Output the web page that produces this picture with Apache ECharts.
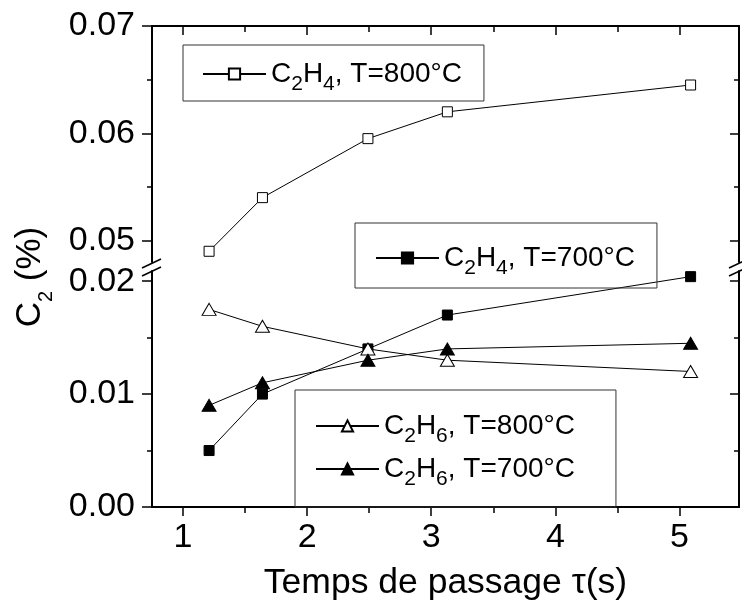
<!DOCTYPE html>
<html><head><meta charset="utf-8">
<script src="https://cdn.jsdelivr.net/npm/echarts@6/dist/echarts.min.js"></script>
<style>html,body{margin:0;padding:0;background:#fff}#c{width:742px;height:606px}</style>
</head><body><div id="c"></div>
<script>
// ---- data ----
const TAU = [1.21, 1.64, 2.49, 3.13, 5.09];
const C2H4_800 = [0.049, 0.054, 0.0595, 0.062, 0.0645];
const C2H4_700 = [0.005, 0.010, 0.014, 0.017, 0.0204];
const C2H6_800 = [0.0175, 0.016, 0.014, 0.013, 0.012];
const C2H6_700 = [0.009, 0.011, 0.013, 0.014, 0.0145];
const NAMES = ['C2H4, T=800°C', 'C2H4, T=700°C', 'C2H6, T=800°C', 'C2H6, T=700°C'];
const X_MAJOR = [1, 2, 3, 4, 5];
const X_MINOR = [1.5, 2.5, 3.5, 4.5];
const Y_UP_MAJOR = [0.05, 0.06, 0.07];
const Y_UP_MINOR = [0.055, 0.065];
const Y_LO_MAJOR = [0, 0.01, 0.02];
const Y_LO_MINOR = [0.005, 0.015];
const X_RANGE = [0.75, 5.48];
const Y_UP_RANGE = [0.048, 0.07];
const Y_LO_RANGE = [0, 0.0209];
const X_TITLE = 'Temps de passage τ(s)';

const FONT = '"Liberation Sans", Arial, sans-serif';
const chart = echarts.init(document.getElementById('c'), null, {renderer: 'canvas'});

function xAxis(grid, pos, ticks, len, inside, major, labels) {
  return {
    type: 'value', gridIndex: grid, position: pos, min: X_RANGE[0], max: X_RANGE[1],
    splitLine: {show: false},
    axisLine: {show: major, lineStyle: {color: '#000', width: 2}},
    axisTick: {show: true, inside: inside, length: len, customValues: ticks, lineStyle: {color: '#000', width: 1.5}},
    axisLabel: labels ? {show: true, customValues: ticks, margin: 14, color: '#000', fontSize: 34, fontFamily: FONT,
      formatter: v => String(Math.round(v))} : {show: false},
    name: labels ? X_TITLE : '', nameLocation: 'middle', nameGap: 58,
    nameTextStyle: {color: '#000', fontSize: 35.5, fontFamily: FONT}
  };
}
function yAxis(grid, pos, range, ticks, len, inside, major, labels) {
  return {
    type: 'value', gridIndex: grid, position: pos, min: range[0], max: range[1],
    splitLine: {show: false},
    axisLine: {show: major, onZero: false, lineStyle: {color: '#000', width: 2}},
    axisTick: {show: true, inside: inside, length: len, customValues: ticks, lineStyle: {color: '#000', width: 1.5}},
    axisLabel: labels ? {show: true, customValues: ticks, margin: 17, color: '#000', fontSize: 34, fontFamily: FONT,
      formatter: v => v.toFixed(2)} : {show: false}
  };
}

function legendFmt(name) {
  const m = name.match(/^C(\d)H(\d), (.*)$/);
  return '{n|C}{s|' + m[1] + '}{n|H}{s|' + m[2] + '}{n|, ' + m[3] + '}';
}
const legendText = {
  color: '#000', fontFamily: FONT, fontSize: 28,
  rich: {
    n: {fontSize: 28, lineHeight: 34, fontFamily: FONT, color: '#000'},
    s: {fontSize: 21, lineHeight: 34, verticalAlign: 'top', padding: [17, 0, 0, 0], fontFamily: FONT, color: '#000'}
  }
};
function legend(names, left, top, padding, gap) {
  return {
    data: names, left: left, top: top, orient: 'vertical', padding: padding, itemGap: gap || 9,
    borderColor: '#333', borderWidth: 1, itemWidth: 63, itemHeight: 14, selectedMode: false,
    formatter: legendFmt, textStyle: legendText
  };
}

function series(name, xi, yi, ys, symbol, size, fill) {
  return {
    name: name, type: 'line', xAxisIndex: xi, yAxisIndex: yi,
    data: TAU.map((x, i) => [x, ys[i]]),
    symbol: symbol, symbolSize: size, showSymbol: true,
    lineStyle: {color: '#000', width: 1},
    itemStyle: {color: fill, borderColor: '#000', borderWidth: 1},
    emphasis: {disabled: true}, animation: false
  };
}

const option = {
  backgroundColor: '#fff',
  animation: false,
  grid: [
    {left: 152, right: 3, top: 26, bottom: 344},
    {left: 152, right: 3, top: 271, bottom: 99}
  ],
  xAxis: [
    xAxis(0, 'top', X_MAJOR, 9, true, true, false),
    xAxis(0, 'top', X_MINOR, 6, true, false, false),
    xAxis(1, 'bottom', X_MAJOR, 9, false, true, true),
    xAxis(1, 'bottom', X_MINOR, 6, false, false, false)
  ],
  yAxis: [
    yAxis(0, 'left', Y_UP_RANGE, Y_UP_MAJOR, 10, false, true, true),
    yAxis(0, 'left', Y_UP_RANGE, Y_UP_MINOR, 5, false, false, false),
    yAxis(0, 'right', Y_UP_RANGE, Y_UP_MAJOR, 9, true, true, false),
    yAxis(0, 'right', Y_UP_RANGE, Y_UP_MINOR, 5, true, false, false),
    yAxis(1, 'left', Y_LO_RANGE, Y_LO_MAJOR, 10, false, true, true),
    yAxis(1, 'left', Y_LO_RANGE, Y_LO_MINOR, 5, false, false, false),
    yAxis(1, 'right', Y_LO_RANGE, Y_LO_MAJOR, 9, true, true, false),
    yAxis(1, 'right', Y_LO_RANGE, Y_LO_MINOR, 5, true, false, false)
  ],
  legend: [
    legend([NAMES[0]], 183, 45, [12, 22, 6, 19]),
    legend([NAMES[1]], 355, 223, [18, 22, 9, 20]),
    legend([NAMES[2], NAMES[3]], 295, 390, [19, 41, 17, 20], 5)
  ],
  series: [
    series(NAMES[0], 0, 0, C2H4_800, 'rect', 10, '#fff'),
    series(NAMES[1], 2, 4, C2H4_700, 'rect', 10, '#000'),
    series(NAMES[2], 2, 4, C2H6_800, 'triangle', [14, 12], '#fff'),
    series(NAMES[3], 2, 4, C2H6_700, 'triangle', [14, 12], '#000')
  ],
  graphic: [
    {type: 'line', shape: {x1: 142, y1: 268, x2: 161, y2: 259}, style: {stroke: '#000', lineWidth: 1.5}},
    {type: 'line', shape: {x1: 142, y1: 276, x2: 161, y2: 267}, style: {stroke: '#000', lineWidth: 1.5}},
    {type: 'line', shape: {x1: 729, y1: 268, x2: 748, y2: 259}, style: {stroke: '#000', lineWidth: 1.5}},
    {type: 'line', shape: {x1: 729, y1: 276, x2: 748, y2: 267}, style: {stroke: '#000', lineWidth: 1.5}},
    {type: 'text', x: 30, y: 277, rotation: Math.PI / 2,
      style: {text: '{c|C}{s|2}{c| (%)}', align: 'center', verticalAlign: 'middle', fill: '#000',
        rich: {
          c: {fontSize: 35, lineHeight: 40, fontFamily: FONT, fill: '#000'},
          s: {fontSize: 20, lineHeight: 40, verticalAlign: 'top', padding: [26, 0, 0, 0], fontFamily: FONT, fill: '#000'}
        }}}
  ]
};
chart.setOption(option);
</script>
</body></html>
